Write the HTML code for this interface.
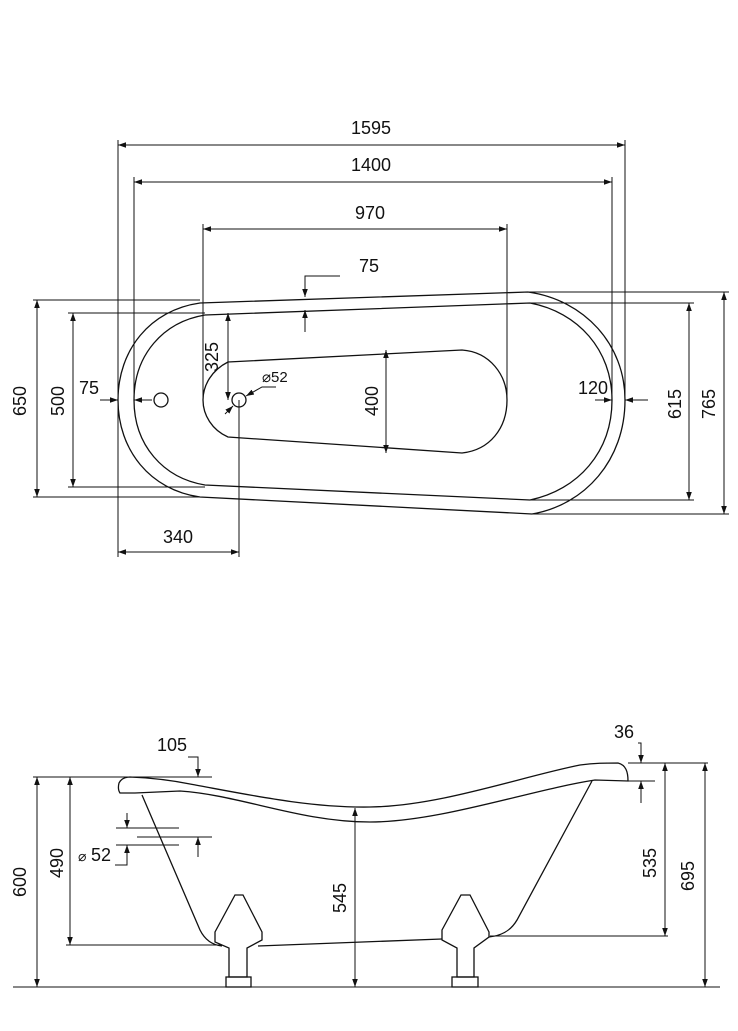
<!DOCTYPE html>
<html><head><meta charset="utf-8"><style>
html,body{margin:0;padding:0;background:#fff}
svg{display:block}
text{font-family:"Liberation Sans",Arial,sans-serif;font-size:18px;fill:#111}
</style></head><body>
<svg width="738" height="1031" viewBox="0 0 738 1031" xmlns="http://www.w3.org/2000/svg">
<defs>
<marker id="a" viewBox="0 0 10 10" refX="10" refY="5" markerWidth="8" markerHeight="8" orient="auto-start-reverse" markerUnits="userSpaceOnUse"><path d="M0,1.5 L10,5 L0,8.5 z" fill="#111"/></marker>
</defs>
<g fill="none" stroke="#111" stroke-width="1.3">
<path d="M200,303 L528,292 C585,300 625,345 625,400 C625,460 585,505 532,514 L200,497 C150,490 118,450 118,400 C118,350 150,310 200,303 Z"/>
<path d="M205,315 L530,303 C578,312 612,350 612,400 C612,452 578,490 530,500 L205,485 C163,478 134,445 134,400 C134,355 163,322 205,315 Z"/>
<path d="M228,362 L462,350 C490,352 507,375 507,400 C507,428 490,450 462,453 L228,437 C212,430 203,415 203,400 C203,385 212,370 228,362 Z"/>
<circle cx="161" cy="400" r="7"/>
<circle cx="239" cy="400" r="7"/>
</g>
<g fill="none" stroke="#111" stroke-width="1">
<path d="M118,140V400 M625,140V400 M134,177V400 M612,177V400 M203,224V400 M507,224V400"/>
<path d="M33,300H200 M33,497H200 M68,313H205 M68,487H205"/>
<path d="M528,292H729 M532,514H729 M530,303H694 M530,500H694"/>
<path d="M118,400V557 M239,400V557"/>
<path d="M118,145H625" marker-start="url(#a)" marker-end="url(#a)"/>
<path d="M134,182H612" marker-start="url(#a)" marker-end="url(#a)"/>
<path d="M203,229H507" marker-start="url(#a)" marker-end="url(#a)"/>
<path d="M37,300V497" marker-start="url(#a)" marker-end="url(#a)"/>
<path d="M73,313V487" marker-start="url(#a)" marker-end="url(#a)"/>
<path d="M724,292V514" marker-start="url(#a)" marker-end="url(#a)"/>
<path d="M689,303V500" marker-start="url(#a)" marker-end="url(#a)"/>
<path d="M228,313V400" marker-start="url(#a)" marker-end="url(#a)"/>
<path d="M386,350V453" marker-start="url(#a)" marker-end="url(#a)"/>
<path d="M118,552H239" marker-start="url(#a)" marker-end="url(#a)"/>
<path d="M340,276H305V297" marker-end="url(#a)"/>
<path d="M305,332V310" marker-end="url(#a)"/>
<path d="M100,400H118" marker-end="url(#a)"/>
<path d="M152,400H134" marker-end="url(#a)"/>
<path d="M595,400H612" marker-end="url(#a)"/>
<path d="M648,400H625" marker-end="url(#a)"/>
<path d="M276,387H262L246,396" marker-end="url(#a)"/>
<path d="M225,414L233,406" marker-end="url(#a)"/>
</g>
<text x="371" y="134" text-anchor="middle">1595</text>
<text x="371" y="171" text-anchor="middle">1400</text>
<text x="370" y="219" text-anchor="middle">970</text>
<text x="369" y="272" text-anchor="middle">75</text>
<text x="89" y="394" text-anchor="middle">75</text>
<text x="593" y="394" text-anchor="middle">120</text>
<text x="178" y="543" text-anchor="middle">340</text>
<text x="262" y="382" style="font-size:15px">⌀52</text>
<text transform="translate(26,401) rotate(-90)" text-anchor="middle">650</text>
<text transform="translate(64,401) rotate(-90)" text-anchor="middle">500</text>
<text transform="translate(218,357) rotate(-90)" text-anchor="middle">325</text>
<text transform="translate(378,401) rotate(-90)" text-anchor="middle">400</text>
<text transform="translate(681,404) rotate(-90)" text-anchor="middle">615</text>
<text transform="translate(715,404) rotate(-90)" text-anchor="middle">765</text>

<g fill="none" stroke="#111" stroke-width="1.3">
<path d="M130,777 C155,778 175,781 190,784 C250,795 310,808 370,807 C440,806 520,777 580,765 C595,763 605,763 618,763 C626,765 628,772 628,781 L595,780 C530,790 440,822 370,822 C300,822 240,795 180,791 L135,793 L120,793 C118,790 118,787 119,783 C121,779 125,777 130,777 Z"/>
<path d="M142,795 L200,930 C205,940 212,945 222,946"/>
<path d="M258,946 L442,939"/>
<path d="M592,781 L517,920 C510,932 500,936 489,937"/>
<path d="M235,895 H243 L262,932 L262,940 L247,948 V977 H229 V948 L215,942 L215,932 Z"/>
<rect x="226" y="977" width="25" height="10"/>
<path d="M461,895 H470 L489,932 L489,937 L474,948 V977 H457 V948 L442,940 L442,930 Z"/>
<rect x="452" y="977" width="26" height="10"/>
</g>
<g fill="none" stroke="#111" stroke-width="1">
<path d="M13,987H720"/>
<path d="M33,777H212 M66,945H222 M490,936H668 M628,763H708 M628,781H655"/>
<path d="M116,828H179 M137,837H212 M116,845H179"/>
<path d="M37,777V987" marker-start="url(#a)" marker-end="url(#a)"/>
<path d="M70,777V945" marker-start="url(#a)" marker-end="url(#a)"/>
<path d="M355,808V987" marker-start="url(#a)" marker-end="url(#a)"/>
<path d="M665,763V936" marker-start="url(#a)" marker-end="url(#a)"/>
<path d="M705,763V987" marker-start="url(#a)" marker-end="url(#a)"/>
<path d="M188,757H198V777" marker-end="url(#a)"/>
<path d="M638,743H641V763" marker-end="url(#a)"/>
<path d="M641,803V781" marker-end="url(#a)"/>
<path d="M127,813V828" marker-end="url(#a)"/>
<path d="M115,865H127V845" marker-end="url(#a)"/>
<path d="M198,857V837" marker-end="url(#a)"/>
</g>
<text x="172" y="751" text-anchor="middle">105</text>
<text x="624" y="738" text-anchor="middle">36</text>
<text x="78" y="861" style="font-size:14px">⌀</text><text x="91" y="861">52</text>
<text transform="translate(26,882) rotate(-90)" text-anchor="middle">600</text>
<text transform="translate(63,863) rotate(-90)" text-anchor="middle">490</text>
<text transform="translate(346,898) rotate(-90)" text-anchor="middle">545</text>
<text transform="translate(656,863) rotate(-90)" text-anchor="middle">535</text>
<text transform="translate(694,876) rotate(-90)" text-anchor="middle">695</text>
</svg>
</body></html>
